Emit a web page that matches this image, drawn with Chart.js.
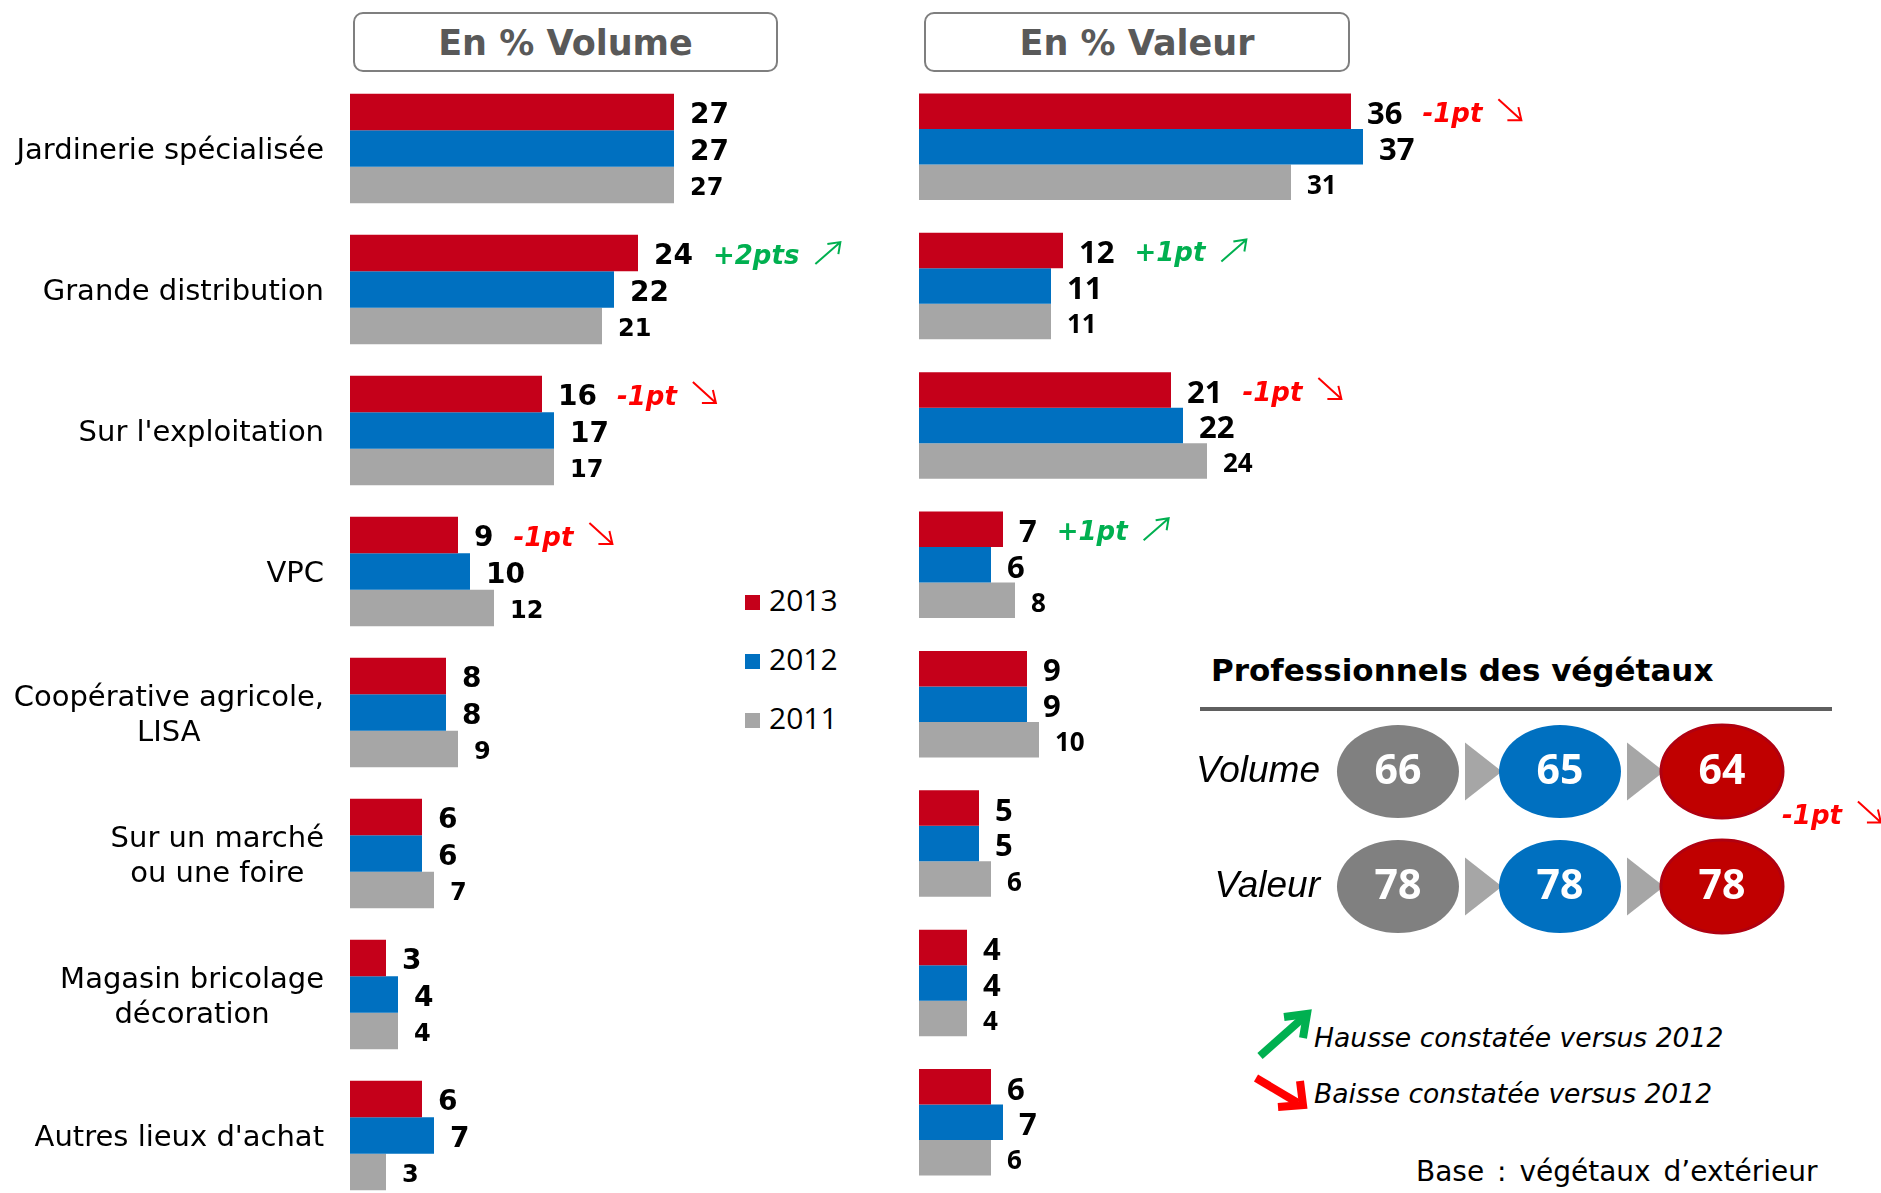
<!DOCTYPE html>
<html>
<head>
<meta charset="utf-8">
<title>Lieux d'achat des végétaux</title>
<script src="https://cdn.jsdelivr.net/npm/chart.js@4.4.1/dist/chart.umd.min.js"></script>
<style>
body { margin:0; width:1881px; height:1193px; overflow:hidden; background:#fff; font-family:"DejaVu Sans", sans-serif; position:relative; }
canvas, .abs { position:absolute; }
.box { border:2px solid #7f7f7f; border-radius:10px; height:56px; text-align:center;
       font:bold 35px "DejaVu Sans", sans-serif; line-height:58px; color:#595959; top:12px; }
.leg { font:30px "Open Sans", sans-serif; color:#000; line-height:40px; height:40px; }
.leg span { display:inline-block; width:15px; height:15px; margin-right:9px; vertical-align:1px; }
.note { font:oblique 26.6px "DejaVu Sans", sans-serif; color:#000; line-height:34px; }
</style>
</head>
<body>
<div class="abs box" style="left:353px; width:421px;">En % Volume</div>
<div class="abs box" style="left:924px; width:422px;">En % Valeur</div>

<div class="abs leg" style="left:745px; top:580px;"><span style="background:#c5001a"></span>2013</div>
<div class="abs leg" style="left:745px; top:639px;"><span style="background:#0070c0"></span>2012</div>
<div class="abs leg" style="left:745px; top:698px;"><span style="background:#a6a6a6"></span>2011</div>

<div class="abs" style="left:1211px; top:651px; font:bold 31px 'DejaVu Sans', sans-serif; line-height:38px;">Professionnels des végétaux</div>
<div class="abs" style="left:1200px; top:707px; width:632px; height:4px; background:#5f5f5f;"></div>

<svg class="abs" style="left:1240px; top:1000px;" width="90" height="120">
  <g fill="none" stroke-linecap="butt" stroke-linejoin="miter">
    <path d="M20 56 L64 17" stroke="#00b050" stroke-width="8"/>
    <path d="M44 17 L67 14 L63 38" stroke="#00b050" stroke-width="8"/>
    <path d="M16 78 L58 103" stroke="#ff0000" stroke-width="8"/>
    <path d="M60 81 L63 105 L38 107" stroke="#ff0000" stroke-width="8"/>
  </g>
</svg>
<div class="abs note" style="left:1314px; top:1021px;">Hausse constatée versus 2012</div>
<div class="abs note" style="left:1314px; top:1077px;">Baisse constatée versus 2012</div>
<div class="abs" style="left:1416px; top:1154px; font:28px 'DejaVu Sans', sans-serif; line-height:36px; word-spacing:4px;">Base : végétaux d’extérieur</div>

<canvas id="chartVolume" width="1100" height="1128" style="left:0; top:78px;"></canvas>
<canvas id="chartValeur" width="750" height="1115" style="left:919px; top:77px;"></canvas>
<canvas id="chartPro" width="691" height="230" style="left:1190px; top:714px;"></canvas>

<script>
// lieux d'achat
var categories = [
	['Jardinerie spécialisée'],
	['Grande distribution'],
	["Sur l'exploitation"],
	['VPC'],
	['Coopérative agricole,', 'LISA'],
	['Sur un marché', 'ou une foire'],
	['Magasin bricolage', 'décoration'],
	["Autres lieux d'achat"]
];
var years = ['2013', '2012', '2011'];

var volume2013 = [27, 24, 16, 9, 8, 6, 3, 6];
var volume2012 = [27, 22, 17, 10, 8, 6, 4, 7];
var volume2011 = [27, 21, 17, 12, 9, 7, 4, 3];
var trendVolume = [null, '+2pts', '-1pt', '-1pt', null, null, null, null];

var valeur2013 = [36, 12, 21, 7, 9, 5, 4, 6];
var valeur2012 = [37, 11, 22, 6, 9, 5, 4, 7];
var valeur2011 = [31, 11, 24, 8, 10, 6, 4, 6];
var trendValeur = ['-1pt', '+1pt', '-1pt', '+1pt', null, null, null, null];

// professionnels des végétaux
var proYears = ['2011', '2012', '2013'];
var proRows = ['Volume', 'Valeur'];
var proVolume = [66, 65, 64];
var proValeur = [78, 78, 78];
var proTrendVolume = [null, null, '-1pt'];

var barColors = ['#c5001a', '#0070c0', '#a6a6a6'];
var GREEN = '#00b050', RED = '#ff0000';

function drawTrendArrow(ctx, x, y, up, color)
{
	ctx.save();
	ctx.strokeStyle = color;
	ctx.lineWidth = 2;
	ctx.beginPath();
	if (up) {
		ctx.moveTo(x, y + 11); ctx.lineTo(x + 24, y - 10);
		ctx.moveTo(x + 12, y - 9); ctx.lineTo(x + 25, y - 11); ctx.lineTo(x + 23, y + 1);
	} else {
		ctx.moveTo(x, y - 12); ctx.lineTo(x + 22, y + 8);
		ctx.moveTo(x + 20, y - 4); ctx.lineTo(x + 23, y + 9); ctx.lineTo(x + 9, y + 9);
	}
	ctx.stroke();
	ctx.restore();
}

function drawTrend(ctx, x, y, txt)
{
	var up = txt.charAt(0) === '+';
	var color = up ? GREEN : RED;
	ctx.save();
	ctx.font = 'italic bold 26px "DejaVu Sans", sans-serif';
	ctx.fillStyle = color;
	ctx.textAlign = 'left';
	ctx.textBaseline = 'middle';
	ctx.fillText(txt, x, y);
	var w = ctx.measureText(txt).width;
	ctx.restore();
	drawTrendArrow(ctx, x + w + 16, y - 4, up, color);
}

var barLabels = {
	id: 'barLabels',
	afterDatasetsDraw: function(chart, args, opts) {
		var ctx = chart.ctx;
		ctx.save();
		ctx.fillStyle = '#000';
		ctx.textAlign = 'left';
		ctx.textBaseline = 'middle';
		chart.data.datasets.forEach(function(ds, di) {
			var meta = chart.getDatasetMeta(di);
			meta.data.forEach(function(bar, i) {
				var txt = String(ds.data[i]);
				ctx.font = 'bold ' + opts.sizes[di] + 'px ' + opts.family;
				var x = bar.x + 16;
				var y = bar.y + 4;
				ctx.fillText(txt, x, y);
				if (di == 0 && opts.trend[i]) {
					drawTrend(ctx, x + ctx.measureText(txt).width + 20, y, opts.trend[i]);
				}
			});
		});
		ctx.restore();
	}
};

var categoryLabels = {
	id: 'categoryLabels',
	afterDraw: function(chart) {
		if (!chart.options.plugins.categoryLabels.show) return;
		var ctx = chart.ctx;
		var yScale = chart.scales.y;
		var right = chart.chartArea.left - 26;
		ctx.save();
		ctx.font = '29px "DejaVu Sans", sans-serif';
		ctx.fillStyle = '#000';
		ctx.textAlign = 'center';
		ctx.textBaseline = 'middle';
		categories.forEach(function(lines, i) {
			var widest = 0;
			lines.forEach(function(l) { widest = Math.max(widest, ctx.measureText(l).width); });
			var cx = right - widest / 2;
			var lh = 35;
			var y0 = yScale.getPixelForValue(i) + 3 - (lines.length - 1) * lh / 2;
			lines.forEach(function(l, k) { ctx.fillText(l, cx, y0 + k * lh); });
		});
		ctx.restore();
	}
};

function barChart(canvasId, d2013, d2012, d2011, trend, showLabels, family, sizes, catPct)
{
	var ctx = document.getElementById(canvasId).getContext('2d');
	return new Chart(ctx, {
		type: 'bar',
		data: {
			labels: categories,
			datasets: [
				{ label: years[0], data: d2013, backgroundColor: barColors[0] },
				{ label: years[1], data: d2012, backgroundColor: barColors[1] },
				{ label: years[2], data: d2011, backgroundColor: barColors[2] }
			]
		},
		options: {
			indexAxis: 'y',
			responsive: false,
			animation: false,
			layout: { padding: { right: 150 } },
			categoryPercentage: catPct,
			barPercentage: 1.0,
			scales: {
				x: { min: 0, max: 50, display: false },
				y: {
					display: showLabels,
					grid: { display: false },
					border: { display: false },
					ticks: { display: false },
					afterFit: function(axis) { if (showLabels) axis.width = 350; }
				}
			},
			plugins: {
				legend: { display: false },
				tooltip: { enabled: false },
				barLabels: { trend: trend, family: family, sizes: sizes },
				categoryLabels: { show: showLabels }
			}
		},
		plugins: [barLabels, categoryLabels]
	});
}

barChart('chartVolume', volume2013, volume2012, volume2011, trendVolume, true, '"DejaVu Sans", sans-serif', [28, 28, 24], 0.775);
barChart('chartValeur', valeur2013, valeur2012, valeur2011, trendValeur, false, '"Open Sans", sans-serif', [31, 31, 26], 0.765);

// ellipses for the summary panel
function ellipseImage(fill, stroke)
{
	var c = document.createElement('canvas');
	c.width = 126; c.height = 97;
	var g = c.getContext('2d');
	g.beginPath();
	g.ellipse(63, 48.5, 61, 46.5, 0, 0, 2 * Math.PI);
	g.fillStyle = fill;
	g.fill();
	if (stroke) { g.lineWidth = 3; g.strokeStyle = stroke; g.stroke(); }
	return c;
}
var proStyles = [ellipseImage('#808080'), ellipseImage('#0070c0'), ellipseImage('#c00000', '#b00010')];

var proPanel = {
	id: 'proPanel',
	beforeDatasetsDraw: function(chart) {
		var ctx = chart.ctx;
		ctx.save();
		ctx.fillStyle = '#a6a6a6';
		chart.data.datasets.forEach(function(ds, di) {
			var pts = chart.getDatasetMeta(di).data;
			for (var i = 0; i < pts.length - 1; i++) {
				var x0 = pts[i].x + 67, x1 = pts[i + 1].x - 58, y = pts[i].y;
				ctx.beginPath();
				ctx.moveTo(x0, y - 29); ctx.lineTo(x1, y); ctx.lineTo(x0, y + 29);
				ctx.closePath();
				ctx.fill();
			}
		});
		ctx.restore();
	},
	afterDatasetsDraw: function(chart) {
		var ctx = chart.ctx;
		ctx.save();
		ctx.textBaseline = 'middle';
		chart.data.datasets.forEach(function(ds, di) {
			var pts = chart.getDatasetMeta(di).data;
			// row label
			ctx.font = 'italic 37px "Liberation Sans", sans-serif';
			ctx.fillStyle = '#000';
			ctx.textAlign = 'right';
			ctx.fillText(ds.label, chart.chartArea.left + 3, pts[0].y);
			// values
			ctx.font = 'bold 41px "Open Sans", sans-serif';
			ctx.fillStyle = '#fff';
			ctx.textAlign = 'center';
			pts.forEach(function(p, i) {
				ctx.fillText(String(ds.values[i]), p.x, p.y + 1);
				if (ds.trend && ds.trend[i]) {
					drawTrend(ctx, p.x + 60, p.y + 46, ds.trend[i]);
				}
			});
		});
		ctx.restore();
	}
};

new Chart(document.getElementById('chartPro').getContext('2d'), {
	type: 'scatter',
	data: {
		datasets: [
			{
				label: proRows[0], values: proVolume, trend: proTrendVolume,
				data: proVolume.map(function(v, i) { return { x: i, y: 0 }; }),
				pointStyle: proStyles, pointRadius: 10
			},
			{
				label: proRows[1], values: proValeur,
				data: proValeur.map(function(v, i) { return { x: i, y: 1 }; }),
				pointStyle: proStyles, pointRadius: 10
			}
		]
	},
	options: {
		responsive: false,
		animation: false,
		layout: { autoPadding: false, padding: { left: 127, right: 78 } },
		scales: {
			x: { min: -0.5, max: 2.5, display: false },
			y: { min: -0.5, max: 1.5, reverse: true, display: false }
		},
		plugins: { legend: { display: false }, tooltip: { enabled: false } }
	},
	plugins: [proPanel]
});
</script>
</body>
</html>
